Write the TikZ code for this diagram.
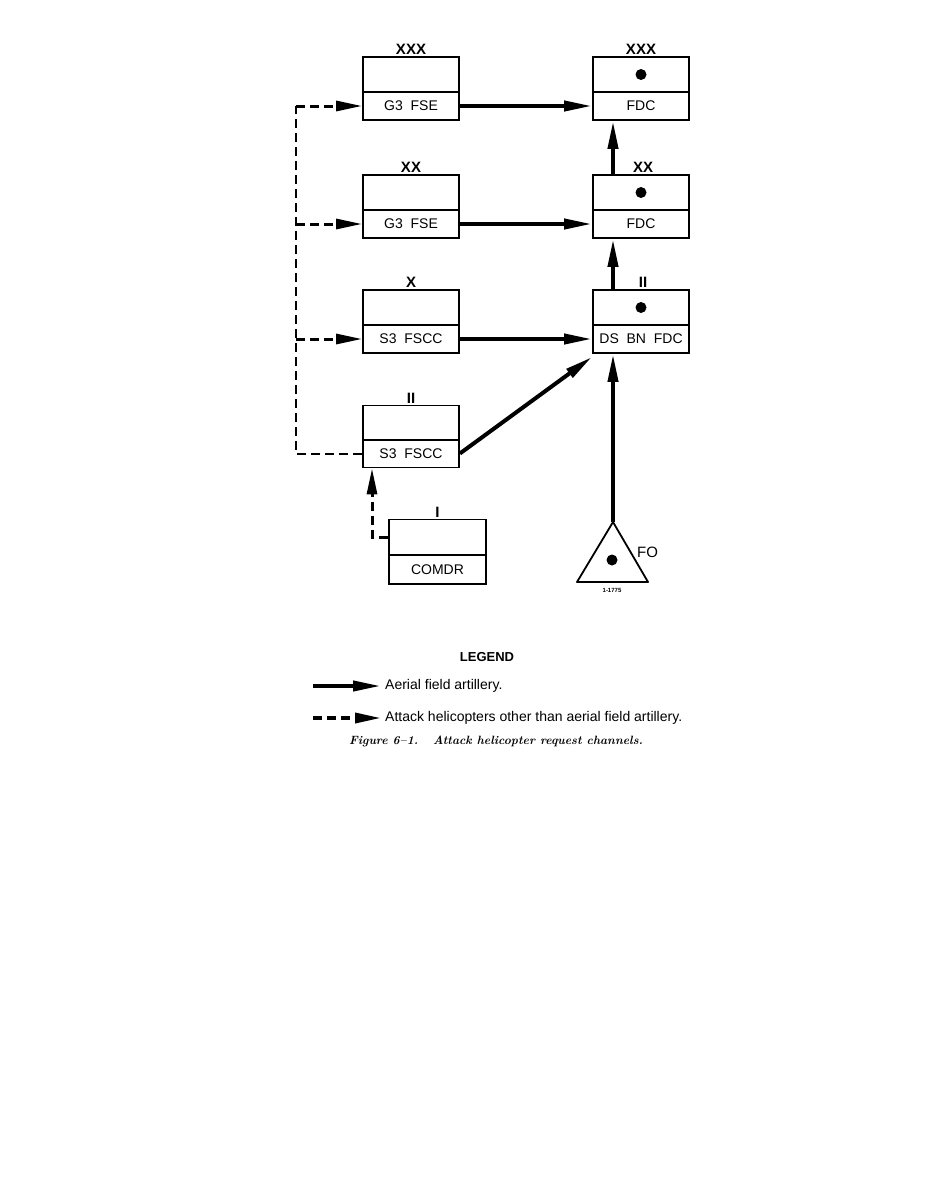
\documentclass[tikz,border=0pt]{standalone}
\usepackage{fontspec}
\newfontfamily\lsans{Liberation Sans}
\usetikzlibrary{arrows.meta}
\begin{document}
\begin{tikzpicture}[x=1pt,y=-1pt,
 topbox/.style={draw,line width=1.8pt,minimum width=96pt,minimum height=35pt,inner sep=0pt},
 botbox/.style={draw,line width=1.8pt,minimum width=96pt,minimum height=28pt,inner sep=0pt,font=\lsans\fontsize{14}{14}\selectfont},
 echelon/.style={font=\lsans\bfseries\fontsize{15}{15}\selectfont,inner sep=0pt,anchor=south},
 solidarrow/.style={line width=4pt,-{Triangle[length=28pt,width=10pt]}},
 dasharrow/.style={line width=3pt,dash pattern=on 9pt off 5pt,-{Triangle[length=26pt,width=10pt]}},
 dashline/.style={line width=2pt,dash pattern=on 9pt off 5pt},
 dotmark/.style={circle,fill,inner sep=0pt,minimum size=11pt},
 legtext/.style={font=\lsans\fontsize{14}{14}\selectfont,anchor=west,inner sep=0pt}]
\path[use as bounding box] (0,0) rectangle (935,1200);

% left column
\node[topbox] (g3aT) at (411,74.5) {};
\node[botbox] (g3a) at (411,106) {G3\ \ FSE};
\node[echelon] (g3aE) at ([yshift=1pt]g3aT.north) {XXX};
\node[topbox] (g3bT) at (411,192.5) {};
\node[botbox] (g3b) at (411,224) {G3\ \ FSE};
\node[echelon] (g3bE) at ([yshift=1pt]g3bT.north) {XX};
\node[topbox] (s3aT) at (411,307.5) {};
\node[botbox] (s3a) at (411,339) {S3\ \ FSCC};
\node[echelon] (s3aE) at ([yshift=1pt]s3aT.north) {X};
\node[topbox] (s3bT) at (411,423) {};
\node[botbox] (s3b) at (411,453.5) {S3\ \ FSCC};
\node[echelon] (s3bE) at ([yshift=1pt]s3bT.north) {II};
\node[topbox,minimum width=97pt] (comT) at (437.5,537) {};
\node[botbox,minimum width=97pt,minimum height=29pt] (com) at (437.5,569.5) {COMDR};
\node[echelon] (comE) at ([yshift=1pt]comT.north) {I};

% right column
\node[topbox] (fdcaT) at (641,74.5) {};
\node[botbox] (fdca) at (641,106) {FDC};
\node[echelon] (fdcaE) at ([yshift=1pt]fdcaT.north) {XXX};
\node[dotmark] (da) at (fdcaT) {};
\node[topbox] (fdcbT) at (641,192.5) {};
\node[botbox] (fdcb) at (641,224) {FDC};
\node[echelon] (fdcbE) at ([yshift=1pt,xshift=2pt]fdcbT.north) {XX};
\node[dotmark] (db) at (fdcbT) {};
\node[topbox] (dsT) at (641,307.5) {};
\node[botbox] (ds) at (641,339) {DS\ \ BN\ \ FDC};
\node[echelon] (dsE) at ([yshift=1pt,xshift=2pt]dsT.north) {II};
\node[dotmark] (dc) at (dsT) {};

% forward observer
\coordinate (apex) at (613,522);
\coordinate (bl) at (577,582);
\coordinate (br) at (648,582);
\draw[line width=1.8pt,line join=round] (apex) -- (br) -- (bl) -- cycle;
\node[dotmark] (dfo) at (612,560) {};
\node[font=\lsans\fontsize{15}{15}\selectfont,anchor=west,inner sep=0pt] (fo) at (637,552) {FO};
\node[font=\lsans\bfseries\fontsize{6}{6}\selectfont,inner sep=0pt] (num) at (612,590) {1-1775};

% solid channels
\draw[solidarrow] (g3a.east) -- (fdca.west);
\draw[solidarrow] (g3b.east) -- (fdcb.west);
\draw[solidarrow] (s3a.east) -- (ds.west);
\draw[solidarrow] (s3b.east) -- ([yshift=-3pt]ds.south west);
\draw[solidarrow] ([xshift=-28pt]dsT.north) -- ([xshift=-28pt]fdcb.south);
\draw[solidarrow] ([xshift=-28pt]fdcbT.north) -- ([xshift=-28pt]fdca.south);
\draw[solidarrow] (apex) -- ([xshift=-28pt]ds.south);

% dashed channels
\coordinate (v1) at (296,106);
\coordinate (v2) at (296,224);
\coordinate (v3) at (296,339);
\coordinate (v4) at (296,453.5);
\draw[dashline] (s3b.west) -- (v4) -- (v1);
\draw[dasharrow] (v1) -- (g3a.west);
\draw[dasharrow] (v2) -- (g3b.west);
\draw[dasharrow] (v3) -- (s3a.west);
\coordinate (c1) at (372,537);
\draw[dasharrow] (comT.west) -- (c1) -- (c1 |- s3b.south);

% legend
\node[font=\lsans\bfseries\fontsize{13}{13}\selectfont,inner sep=0pt] (leg) at (487,657) {LEGEND};
\coordinate (la1) at (313,686);
\coordinate (la2) at (381,686);
\coordinate (lb1) at (313,718);
\coordinate (lb2) at (381,718);
\draw[solidarrow] (la1) -- (la2);
\draw[dasharrow,line width=3.5pt] (lb1) -- (lb2);
\node[legtext] (lta) at (385,686) {Aerial field artillery.};
\node[legtext] (ltb) at (385,718) {Attack helicopters other than aerial field artillery.};
\node[font=\bfseries\itshape\fontsize{12}{12}\selectfont,inner sep=0pt] (cap) at (496,741) {Figure 6--1.\ \ \ Attack helicopter request channels.};
\end{tikzpicture}
\end{document}
